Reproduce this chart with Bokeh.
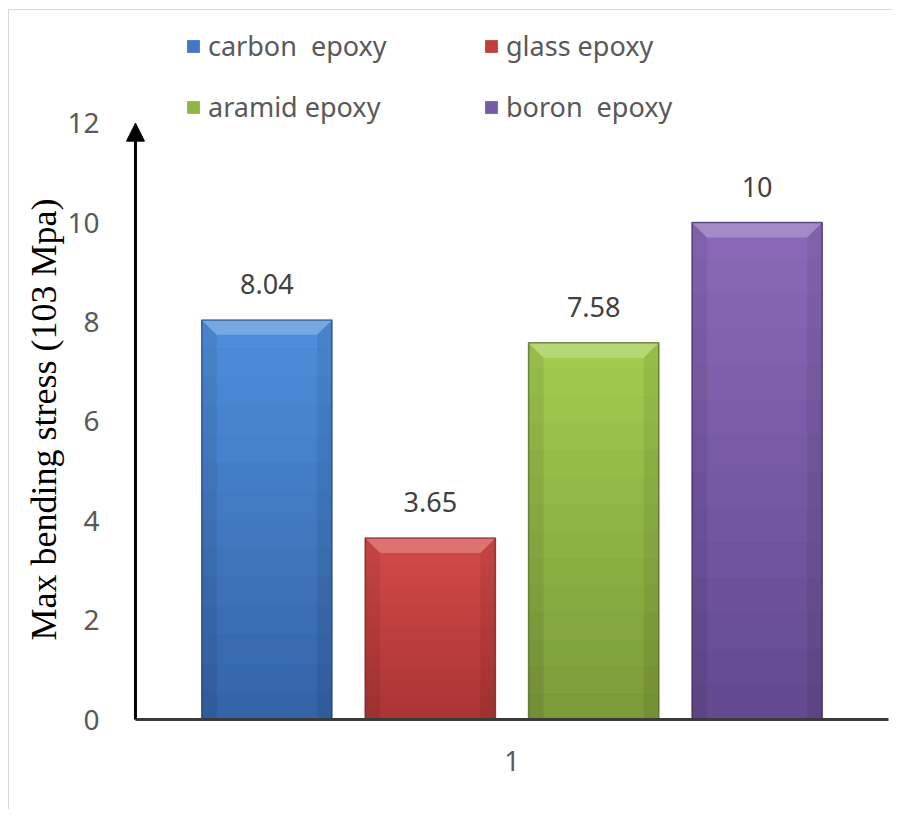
from bokeh.plotting import figure
from bokeh.models import (ColumnDataSource, Range1d, FixedTicker, Legend, LegendItem,
                          Arrow, NormalHead, Title)
from bokeh.core.properties import value
from bokeh.embed import file_html
from bokeh.resources import INLINE

# ---- data ----
categories = ["1"]
series = ["carbon  epoxy", "glass epoxy", "aramid epoxy", "boron  epoxy"]
values = [8.04, 3.65, 7.58, 10]
y_ticks = [0, 2, 4, 6, 8, 10, 12]
y_title = "Max bending stress (103 Mpa)"

# ---- styles ----
top_colors = ["#4f8fdc", "#d44a49", "#a3cc50", "#8b69b8"]
mid_colors = ["#3f78c6", "#c23d3d", "#8fb543", "#765aa6"]
bot_colors = ["#3462a6", "#a93434", "#7a9a38", "#62498f"]
edge_colors = ["#1f3d6b", "#6e1f1f", "#4d6323", "#3c2b5a"]
BAR_W = 0.173
STEP = 0.217
GROUP_CENTER = 0.5
centers = [GROUP_CENTER + (i - 1.5) * STEP for i in range(len(series))]

p = figure(width=884, height=800, output_backend="svg", toolbar_location=None,
           x_range=Range1d(-0.0159, 1.0053), y_range=Range1d(-0.06, 14.065),
           min_border_left=114, min_border_right=1, min_border_top=10,
           min_border_bottom=88)
p.styles = {"margin-left": "8px", "margin-top": "9px",
            "border-left": "1px solid #d9d9d9", "border-top": "1px solid #d9d9d9"}
p.outline_line_color = None
p.xgrid.visible = False
p.ygrid.visible = False
p.background_fill_color = "white"

# main bars (legend renderer)
src = ColumnDataSource(dict(x=centers, top=values, name=series, color=mid_colors,
                            edge=edge_colors))
main = p.vbar(x="x", top="top", bottom=0, width=BAR_W, source=src,
              fill_color="color", line_color=None)


def hex2rgb(h):
    h = h.lstrip("#")
    return tuple(int(h[i:i + 2], 16) for i in (0, 2, 4))


def mix(a, b, t):
    ra, rb = hex2rgb(a), hex2rgb(b)
    return "#%02x%02x%02x" % tuple(int(round(ra[k] + (rb[k] - ra[k]) * t)) for k in range(3))


# vertical gradient slices derived from each bar's value
N = 14
gx, gtop, gbot, gcol = [], [], [], []
for c, v, tc, bc in zip(centers, values, top_colors, bot_colors):
    for k in range(N):
        gx.append(c)
        gbot.append(v * k / N)
        gtop.append(v * (k + 1) / N)
        gcol.append(mix(bc, tc, (k + 0.5) / N))
p.vbar(x=gx, top=gtop, bottom=gbot, width=BAR_W, fill_color=gcol, line_color=None)

# bevels: light top, darker sides
d, h = 0.02, 0.3
tx, ty, tcol = [], [], []
sx, sy = [], []
for c, v, tc in zip(centers, values, top_colors):
    xl, xr = c - BAR_W / 2, c + BAR_W / 2
    tx.append([xl, xr, xr - d, xl + d])
    ty.append([v, v, v - h, v - h])
    tcol.append(mix(tc, "#ffffff", 0.22))
    sx.append([xl, xl + d, xl + d, xl])
    sy.append([v, v - h, 0, 0])
    sx.append([xr, xr - d, xr - d, xr])
    sy.append([v, v - h, 0, 0])
p.patches(sx, sy, fill_color="black", fill_alpha=0.07, line_color=None)
p.patches(tx, ty, fill_color=tcol, line_color=None)

# outline
p.vbar(x="x", top="top", bottom=0, width=BAR_W, source=src, fill_color=None,
       line_color="edge", line_width=1.5, line_alpha=0.7)

# data labels
p.text(x=centers, y=values, text=[f"{v:g}" for v in values], y_offset=-36,
       text_align="center", text_baseline="middle", text_font=value("Noto Sans"),
       text_font_size="27px", text_color="#404040")

# baseline (x axis line) and arrowed y axis
p.segment(x0=[0], y0=[0], x1=[1.0], y1=[0], line_color="#3a3a3a", line_width=3)
p.add_layout(Arrow(end=NormalHead(size=18, fill_color="black", line_color="black"),
                   x_start=0, y_start=0, x_end=0, y_end=y_ticks[-1],
                   line_width=3, line_color="black"))

# axes
p.xaxis.ticker = FixedTicker(ticks=[GROUP_CENTER])
p.xaxis.major_label_overrides = {GROUP_CENTER: categories[0]}
p.xaxis.major_tick_line_color = None
p.xaxis.minor_tick_line_color = None
p.xaxis.axis_line_color = None
p.xaxis.major_label_text_font = "Noto Sans"
p.xaxis.major_label_text_font_size = "27px"
p.xaxis.major_label_text_color = "#595959"
p.xaxis.major_label_standoff = 22

p.yaxis.ticker = FixedTicker(ticks=y_ticks)
p.yaxis.major_tick_line_color = None
p.yaxis.minor_tick_line_color = None
p.yaxis.axis_line_color = None
p.yaxis.major_label_text_font = "Noto Sans"
p.yaxis.major_label_text_font_size = "28px"
p.yaxis.major_label_text_color = "#595959"
p.yaxis.major_label_standoff = 18

p.add_layout(Title(text=y_title, align="left", offset=82,
                   text_font="Liberation Serif", text_font_size="36px",
                   text_font_style="normal", text_color="#000000", standoff=2), "left")

legend = Legend(items=[LegendItem(label=s, renderers=[main], index=i)
                       for i, s in enumerate(series)],
                location=(62, 597), orientation="horizontal", ncols=2,
                border_line_color=None, background_fill_alpha=0,
                label_text_font="Noto Sans", label_text_font_size="27px",
                label_text_color="#595959", glyph_width=16, glyph_height=16,
                label_standoff=7, label_width=251, label_height=24,
                spacing=24, padding=0, margin=0)
p.add_layout(legend, "center")

open("out.html", "w").write(file_html(p, INLINE))
